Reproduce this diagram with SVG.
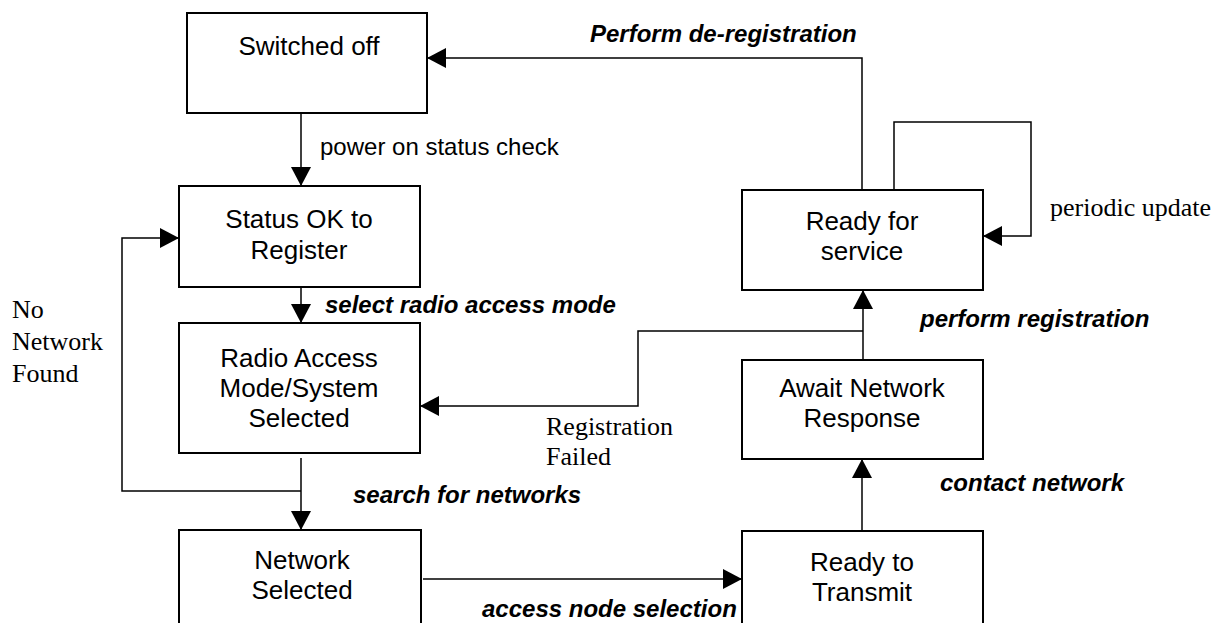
<svg xmlns="http://www.w3.org/2000/svg" width="1221" height="623" viewBox="0 0 1221 623">
<style>
.box{fill:#fff;stroke:#000;stroke-width:2}
.bt{font-family:"Liberation Sans",Arial,sans-serif;font-size:26px;text-anchor:middle;fill:#000}
.lb{font-family:"Liberation Sans",Arial,sans-serif;font-size:24px;font-weight:bold;font-style:italic;fill:#000}
.lr{font-family:"Liberation Sans",Arial,sans-serif;font-size:24px;fill:#000}
.tm{font-family:"Liberation Serif","Times New Roman",serif;font-size:26px;fill:#000}
.c{fill:none;stroke:#000;stroke-width:1.5}
</style>
<defs>
<marker id="ah" viewBox="0 0 19 20" refX="19" refY="10" markerWidth="19" markerHeight="20" markerUnits="userSpaceOnUse" orient="auto">
<path d="M0,0 L19,10 L0,20 z" fill="#000"/>
</marker>
</defs>
<rect width="1221" height="623" fill="#fff"/>
<g id="connectors">
<path class="c" d="M301,113 V186" marker-end="url(#ah)"/>
<path class="c" d="M301,287 V323" marker-end="url(#ah)"/>
<path class="c" d="M301,458 V530" marker-end="url(#ah)"/>
<path class="c" d="M301,491 H122 V238 H179" marker-end="url(#ah)"/>
<path class="c" d="M423,579 H742" marker-end="url(#ah)"/>
<path class="c" d="M862,531 V459" marker-end="url(#ah)"/>
<path class="c" d="M863,360 V290" marker-end="url(#ah)"/>
<path class="c" d="M863,331 H638 V406 H420" marker-end="url(#ah)"/>
<path class="c" d="M862,190 V58 H427" marker-end="url(#ah)"/>
<path class="c" d="M894,190 V122 H1031 V236 H983" marker-end="url(#ah)"/>
</g>
<g id="switched-off">
<rect class="box" x="187" y="13" width="240" height="100"/>
<text class="bt" x="309" y="55">Switched off</text>
</g>
<g id="status-ok">
<rect class="box" x="179" y="186" width="241" height="101"/>
<text class="bt" x="299" y="228">Status OK to</text>
<text class="bt" x="299" y="259">Register</text>
</g>
<g id="radio-access">
<rect class="box" x="179" y="323" width="241" height="130"/>
<text class="bt" x="299" y="367">Radio Access</text>
<text class="bt" x="299" y="397">Mode/System</text>
<text class="bt" x="299" y="427">Selected</text>
</g>
<g id="network-selected">
<rect class="box" x="179" y="530" width="242" height="120"/>
<text class="bt" x="302" y="569">Network</text>
<text class="bt" x="302" y="599">Selected</text>
</g>
<g id="ready-for-service">
<rect class="box" x="742" y="190" width="241" height="100"/>
<text class="bt" x="862" y="230">Ready for</text>
<text class="bt" x="862" y="260">service</text>
</g>
<g id="await-network">
<rect class="box" x="742" y="360" width="241" height="99"/>
<text class="bt" x="862" y="397">Await Network</text>
<text class="bt" x="862" y="427">Response</text>
</g>
<g id="ready-to-transmit">
<rect class="box" x="742" y="531" width="241" height="120"/>
<text class="bt" x="862" y="571">Ready to</text>
<text class="bt" x="862" y="601">Transmit</text>
</g>
<g id="labels">
<text class="lb" x="590" y="42">Perform de-registration</text>
<text class="lr" x="320" y="155">power on status check</text>
<text class="tm" x="1050" y="216">periodic update</text>
<text class="lb" x="325" y="313">select radio access mode</text>
<text class="lb" x="920" y="327">perform registration</text>
<text class="tm" x="12" y="318">No</text>
<text class="tm" x="12" y="350">Network</text>
<text class="tm" x="12" y="382">Found</text>
<text class="tm" x="546" y="435">Registration</text>
<text class="tm" x="546" y="465">Failed</text>
<text class="lb" x="940" y="491">contact network</text>
<text class="lb" x="353" y="503">search for networks</text>
<text class="lb" x="482" y="617">access node selection</text>
</g>
</svg>
